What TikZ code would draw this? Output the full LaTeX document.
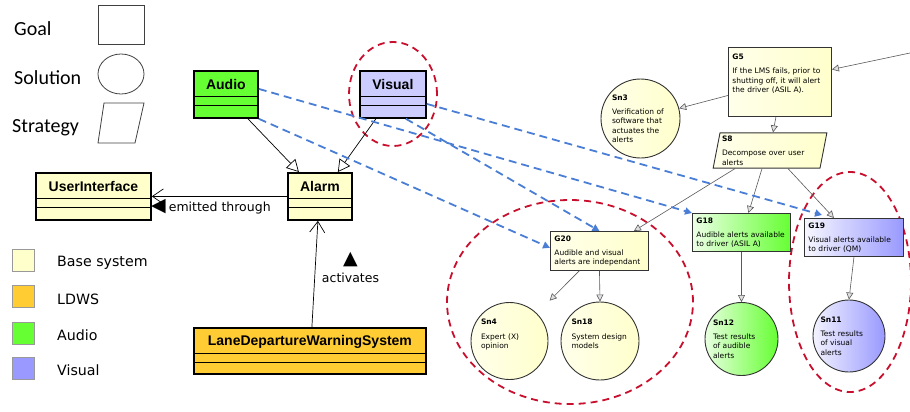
\documentclass[tikz,border=0pt]{standalone}
\usepackage{fontspec}
\setmainfont{DejaVu Sans}
\newfontfamily\classfont{Liberation Sans}
\newfontfamily\legendfont{Carlito}
\usetikzlibrary{arrows.meta,shapes.geometric}

\definecolor{basefill}{RGB}{255,255,204}
\definecolor{ldwsfill}{RGB}{255,204,51}
\definecolor{audiofill}{RGB}{102,255,51}
\definecolor{visualfill}{RGB}{204,204,255}
\definecolor{visualdark}{RGB}{153,153,255}
\definecolor{gsnyellow}{RGB}{255,255,204}
\definecolor{linkblue}{RGB}{74,126,212}
\definecolor{zonered}{RGB}{200,16,46}

\newcommand{\gsnsize}{\fontsize{7.5}{9.3}\selectfont}

\begin{document}
\begin{tikzpicture}[x=1pt, y=-1pt,
    legendtext/.style={anchor=west, inner sep=0pt, font=\legendfont\fontsize{20}{24}\selectfont},
    colortext/.style={anchor=west, inner sep=0pt, font=\fontsize{14.2}{17}\selectfont},
    swatch/.style={draw=black!40, line width=1pt, minimum size=22pt, inner sep=0pt},
    shapekey/.style={draw=black!75, line width=0.8pt, inner sep=0pt},
    classbox/.style={draw=black, line width=1.8pt, anchor=north west, inner sep=0pt,
        minimum height=47pt, text height=10pt, text depth=20pt,
        font=\classfont\bfseries\fontsize{14}{16}\selectfont},
    classrule/.style={draw=black, line width=0.9pt},
    gen/.style={draw=black, line width=0.7pt, -{Triangle[length=12pt, width=13pt, fill=white]}},
    assoc/.style={draw=black, line width=0.7pt, -{Straight Barb[length=11pt, width=15pt]}},
    relabel/.style={inner sep=0pt, font=\fontsize{12.5}{18}\selectfont},
    gsngoal/.style={draw=black!80, line width=0.9pt, anchor=north west, align=left,
        inner xsep=4pt, inner ysep=4pt, font=\gsnsize,
        left color=gsnyellow!40!white, right color=gsnyellow},
    gsnsol/.style={circle, draw=black!80, line width=0.9pt, inner sep=0pt, align=left,
        text width=57pt, font=\gsnsize, left color=gsnyellow!40!white, right color=gsnyellow},
    gsnstrat/.style={trapezium, trapezium left angle=79, trapezium right angle=101,
        draw=black!80, line width=0.9pt, align=left, text width=96pt,
        inner xsep=2pt, inner ysep=3pt, font=\gsnsize,
        left color=gsnyellow!40!white, right color=gsnyellow},
    gsnarrow/.style={draw=black!65, line width=0.6pt, -{Triangle[length=7pt, width=7pt, fill=black!12]}},
    link/.style={draw=linkblue, line width=1.8pt, dash pattern=on 8pt off 5pt,
        -{Triangle[length=7pt, width=7pt]}},
    zone/.style={draw=zonered, line width=1.8pt, dash pattern=on 7pt off 5pt}]

\useasboundingbox (0,0) rectangle (910,412);

% Legend
\node[legendtext] (goaltext) at (14,28.5) {Goal};
\node[legendtext] (soltext) at (14,77.5) {Solution};
\node[legendtext] (strattext) at (12,128) {Strategy};
\node[shapekey, minimum width=46pt, minimum height=39pt] (goalkey) at (121,24.5) {};
\node[shapekey, ellipse, minimum width=46pt, minimum height=40pt] (solkey) at (121,74) {};
\draw[shapekey] (104,103) -- (144,103) -- (135,143) -- (98,143) -- cycle;

\node[swatch, fill=basefill] (basekey) at (23.5,260.5) {};
\node[swatch, fill=ldwsfill] (ldwskey) at (23.5,296.5) {};
\node[swatch, fill=audiofill] (audiokey) at (23.5,333) {};
\node[swatch, fill=visualdark] (visualkey) at (23.5,368.5) {};
\node[colortext] (basetext) at (57,263) {Base system};
\node[colortext] (ldwstext) at (57,299) {LDWS};
\node[colortext] (audiotext) at (57,335) {Audio};
\node[colortext] (visualtext) at (57,370.5) {Visual};

% Variability zones
\draw[zone] (393,94) ellipse [x radius=44pt, y radius=52pt];
\draw[zone] (570,302) ellipse [x radius=123pt, y radius=102pt];
\draw[zone] (850,282) ellipse [x radius=61pt, y radius=110pt];

% UML classes
\node[classbox, fill=audiofill, minimum width=64pt] (audio) at (193,70) {Audio};
\node[classbox, fill=visualfill, minimum width=66pt] (visual) at (359,70) {Visual};
\node[classbox, fill=basefill, minimum width=115pt] (ui) at (35,172) {UserInterface};
\node[classbox, fill=basefill, minimum width=64pt] (alarm) at (287,172) {Alarm};
\node[classbox, fill=ldwsfill, minimum width=232pt, minimum height=46pt] (ldws) at (193,327) {LaneDepartureWarningSystem};
\foreach \c in {audio, visual, ui, alarm, ldws} {
    \draw[classrule] ([yshift=-26pt]\c.north west) -- ([yshift=-26pt]\c.north east);
    \draw[classrule] ([yshift=-35pt]\c.north west) -- ([yshift=-35pt]\c.north east);
}

\draw[gen] ([xshift=22pt]audio.south) -- ([xshift=-21pt]alarm.north);
\draw[gen] ([xshift=-17pt]visual.south) -- ([xshift=18pt]alarm.north);
\draw[assoc] (alarm.west) -- (ui.east);
\draw[assoc] ([xshift=2pt]ldws.north) -- ([xshift=-2pt]alarm.south);
\node[relabel, anchor=west] (emitlabel) at (151,207) {{\fontsize{19}{19}\selectfont ◀}\kern3pt emitted through};
\node[relabel, font=\fontsize{19}{19}\selectfont] (actarrow) at (350.5,260) {▲};
\node[relabel] (actlabel) at (350.5,278) {activates};

% GSN argument
\node[gsngoal, text width=95pt, minimum height=69pt] (g5) at (728,47)
    {\textbf{G5}\\[5pt]If the LMS fails, prior to\\shutting off, it will alert\\the driver (ASIL A).\\[8pt]\mbox{}};
\node[gsnsol, minimum size=79pt] (sn3) at (640.5,118.5)
    {\textbf{Sn3}\\[5pt]Verification of\\software that\\actuates the\\alerts};
\node[gsnstrat] (s8) at (770,150.5) {\textbf{S8}\\[5pt]Decompose over user\\alerts};
\node[gsngoal, text width=90pt, minimum height=38pt] (g20) at (550,231)
    {\textbf{G20}\\[5pt]Audible and visual\\alerts are independant};
\node[gsngoal, text width=90pt, minimum height=38pt, left color=audiofill!12!white, right color=audiofill] (g18) at (692,213)
    {\textbf{G18}\\[5pt]Audible alerts available\\to driver (ASIL A)};
\node[gsngoal, text width=91pt, minimum height=38pt, left color=visualdark!8!white, right color=visualdark] (g19) at (804,218)
    {\textbf{G19}\\[5pt]Visual alerts available\\to driver (QM)};
\node[gsnsol, minimum size=77pt] (sn4) at (509.5,341) {\textbf{Sn4}\\[5pt]Expert (X)\\opinion\\[5pt]\mbox{}};
\node[gsnsol, minimum size=78pt] (sn18) at (600,341) {\textbf{Sn18}\\[5pt]System design\\models\\[5pt]\mbox{}};
\node[gsnsol, minimum size=73pt, left color=audiofill!15!white, right color=audiofill] (sn12) at (741.5,339)
    {\textbf{Sn12}\\[5pt]Test results\\of audible\\alerts};
\node[gsnsol, minimum size=72pt, left color=visualdark!12!white, right color=visualdark] (sn11) at (849,336)
    {\textbf{Sn11}\\[5pt]Test results\\of visual\\alerts};

\coordinate (g5in) at (910,53);
\draw[gsnarrow] (g5in) -- ([yshift=12.5pt]g5.east);
\draw[gsnarrow] ([yshift=-13.5pt]g5.west) -- (sn3);
\draw[gsnarrow] ([xshift=-4pt]g5.south) -- ([xshift=3pt]s8.north);
\draw[gsnarrow] ([xshift=-35pt]s8.south) -- ([xshift=-15pt]g20.north east);
\draw[gsnarrow] ([xshift=-8pt]s8.south) -- ([xshift=7pt]g18.north);
\draw[gsnarrow] ([xshift=18pt]s8.south) -- ([xshift=-20pt]g19.north);
\draw[gsnarrow, shorten >=18pt] ([xshift=-20pt]g20.south) -- (sn4);
\draw[gsnarrow] (g20.south) -- (sn18.north);
\draw[gsnarrow] (g18.south) -- (sn12.north);
\draw[gsnarrow] (g19.south) -- (sn11.north);

% variability links
\draw[link] ([yshift=5.5pt]audio.east) -- (g18.north west);
\draw[link] (audio.south east) -- ([yshift=3pt]g20.west);
\draw[link] ([yshift=-9.5pt]visual.east) -- ([xshift=18pt, yshift=3pt]g19.north west);
\draw[link] ([xshift=13pt]visual.south) -- (g20.north);

\end{tikzpicture}
\end{document}
